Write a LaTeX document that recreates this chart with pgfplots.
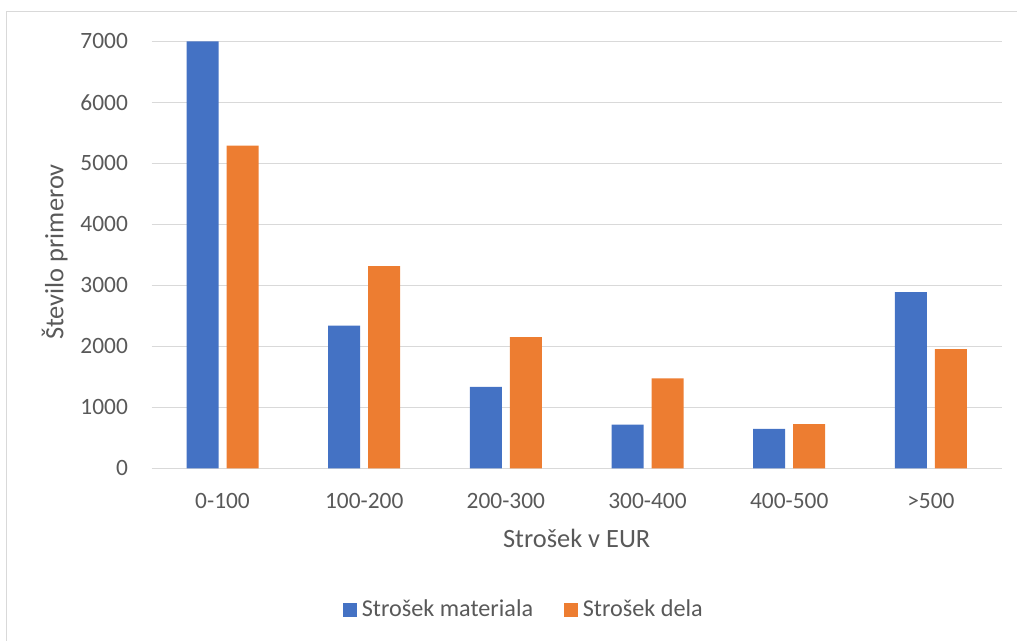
\documentclass[border=0pt]{standalone}
\usepackage{fontspec}
\setmainfont{Carlito}
\usepackage{pgfplots}
\pgfplotsset{compat=1.18}

\definecolor{matblue}{HTML}{4472C4}
\definecolor{labor}{HTML}{ED7D31}
\definecolor{gridgray}{HTML}{D9D9D9}
\definecolor{txt}{HTML}{595959}
\newcommand{\tickfont}{\fontsize{11.7}{14}\selectfont}
\newcommand{\legfont}{\fontsize{12.1}{14}\selectfont}
\newcommand{\titlefont}{\fontsize{13.2}{16}\selectfont}

\begin{document}
\begin{tikzpicture}[x=0.5pt,y=-0.5pt]
\useasboundingbox (0,0) rectangle (1017,641);
% chart frame (top and left edges)
\begin{scope}
  \clip (0,0) rectangle (1017,641);
  \draw[gridgray, line width=0.65pt] (6.7,700) -- (6.7,11.5) -- (1100,11.5);
\end{scope}
\coordinate (ll) at (151.7,468.3);
\begin{axis}[
  at={(ll)}, anchor=south west,
  scale only axis, width=425pt, height=213.5pt,
  clip=false,
  xmin=-0.5, xmax=5.5, ymin=0, ymax=7000,
  ytick={0,1000,...,7000},
  xtick={0,...,5},
  xticklabels={0-100,100-200,200-300,300-400,400-500,>500},
  tick style={draw=none},
  axis line style={draw=none},
  ymajorgrids, grid style={gridgray, line width=0.65pt},
  ybar=4pt, bar width=16pt,
  tick label style={font=\tickfont, text=txt},
  xticklabel style={anchor=base, inner sep=0pt, yshift=-16pt},
  yticklabel style={anchor=east, inner sep=0pt, xshift=-11.7pt},
  /pgf/number format/assume math mode=true,
  /pgf/number format/1000 sep={},
  legend columns=2,
  legend cell align=left,
  legend image code/.code={\fill[#1] (0pt,-3.5pt) rectangle (7pt,3.5pt);},
  legend style={at={(0.4366,-0.3314)}, anchor=center, draw=none, fill=none,
    font=\legfont, text=txt, inner sep=0pt,
    nodes={inner sep=0pt},
    /tikz/every odd column/.append style={column sep=2.5pt},
    /tikz/every even column/.append style={column sep=15.35pt}},
]
\addplot[fill=matblue, draw=none] coordinates {
  (0,7000) (1,2340) (2,1335) (3,715) (4,645) (5,2890)};
\addplot[fill=labor, draw=none] coordinates {
  (0,5290) (1,3315) (2,2150) (3,1475) (4,725) (5,1955)};
\legend{Strošek materiala, Strošek dela}
\end{axis}
\node[font=\titlefont, text=txt, anchor=base] at (576.7,547.3) {Strošek v EUR};
\node[font=\titlefont, text=txt, anchor=base, rotate=90] at (63.3,252) {Število primerov};
\end{tikzpicture}
\end{document}
